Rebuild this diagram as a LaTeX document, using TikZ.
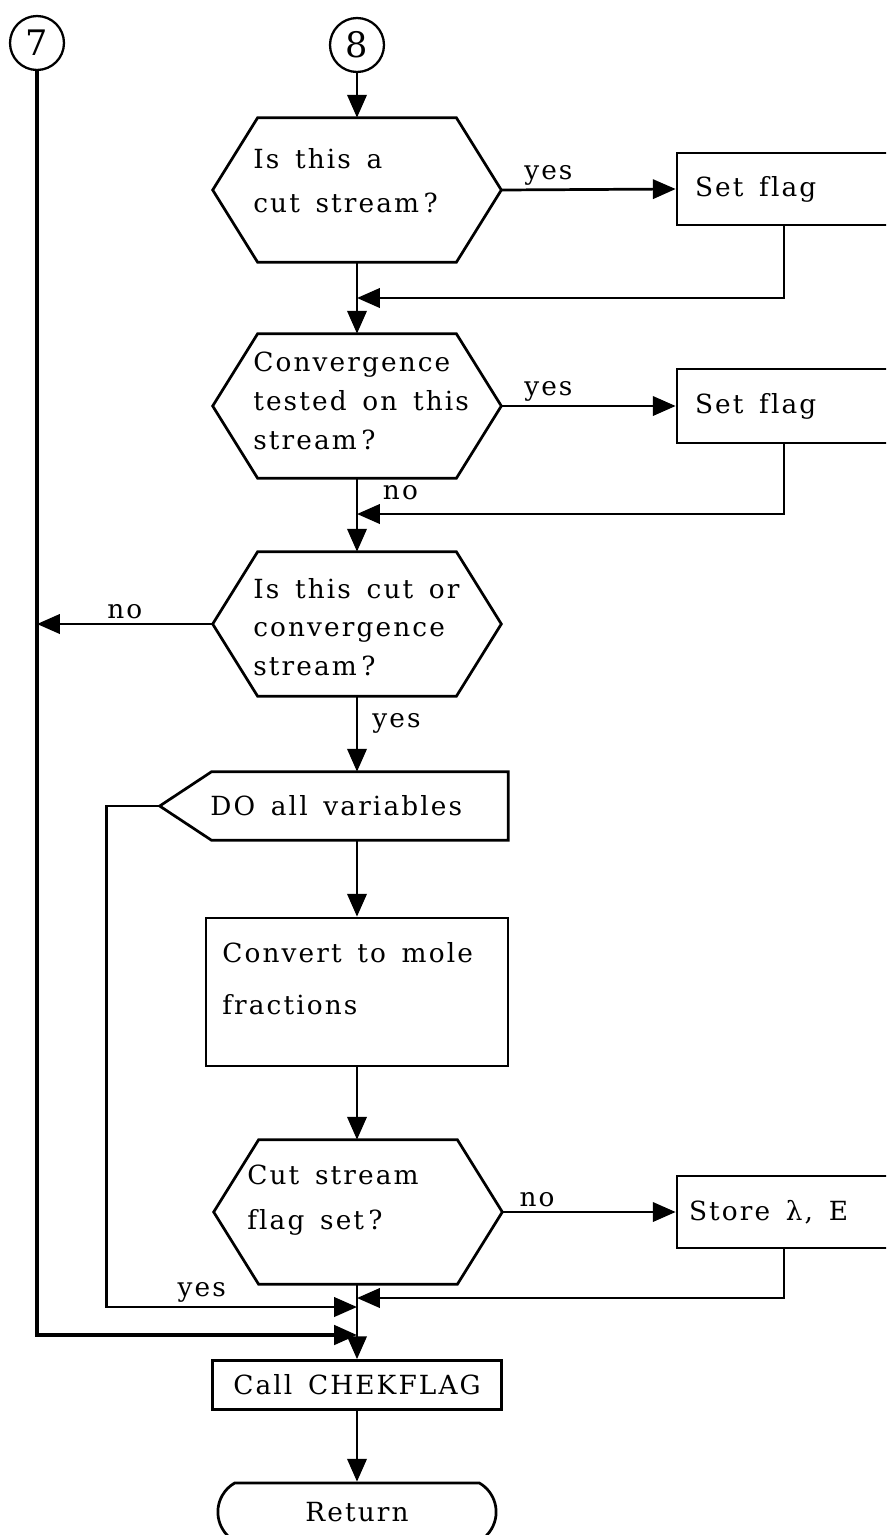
\documentclass[tikz,border=0pt]{standalone}
\usepackage{fontspec}
\setmainfont{DejaVu Serif}[LetterSpace=8, WordSpace=1.5, Ligatures=NoCommon]
\usetikzlibrary{arrows.meta,shapes.misc}

% decision hexagon: an empty frame node whose outline is drawn from its anchors
\newcommand{\decisionshape}[2]{%
  \node[hexframe] (#1) at (#2) {};
  \draw[flow] (#1.west) -- ([xshift=0.9cm]#1.north west) -- ([xshift=-0.9cm]#1.north east)
    -- (#1.east) -- ([xshift=-0.9cm]#1.south east) -- ([xshift=0.9cm]#1.south west) -- cycle;}

\tikzset{
  every node/.style={font=\fontsize{15}{22}\selectfont},
  flow/.style={line width=1.55pt},
  arr/.style={flow, -{Triangle[length=13pt,width=11pt]}},
  conn/.style={circle, draw, line width=1.3pt, minimum size=1.08cm, inner sep=0pt,
    font=\fontsize{20}{22}\selectfont},
  hexframe/.style={rectangle, minimum width=5.76cm, minimum height=2.88cm, inner sep=0pt},
  txt/.style={anchor=west, align=left, inner sep=0pt},
  procbox/.style={rectangle, draw, flow, minimum height=1.44cm, inner ysep=0pt},
  lab/.style={inner sep=2pt},
}

\begin{document}
\begin{tikzpicture}[x=0.02cm, y=-0.02cm]
\useasboundingbox (0,0) rectangle (886,1535);
\clip (0,0) rectangle (886,1535);

% entry connectors
\node[conn] (c7) at (37,43) {7};
\node[conn] (c8) at (357,45) {8};

% decisions
\decisionshape{d1}{357,190}
\node[txt, font=\fontsize{15}{25}\selectfont] (d1t) at (253,181) {Is this a\\cut stream\,?};

\decisionshape{d2}{357,406}
\node[txt] (d2t) at (253,401) {Convergence\\tested on this\\stream\,?};

\decisionshape{d3}{357,624}
\node[txt] (d3t) at (253,627) {Is this cut or\\convergence\\stream\,?};

% flag boxes on the right
\node[procbox, inner xsep=0.36cm] (s1) at (784,189) {\makebox[3.56cm][l]{Set flag}};
\node[procbox, inner xsep=0.36cm, minimum height=1.48cm] (s2) at (784,406) {\makebox[3.56cm][l]{Set flag}};

% DO loop head
\node[rectangle, minimum width=6.96cm, minimum height=1.36cm, inner sep=0pt] (do) at (334,806) {};
\draw[flow] (do.west) -- ([xshift=1.04cm]do.north west) -- (do.north east) -- (do.south east)
  -- ([xshift=1.04cm]do.south west) -- cycle;
\node[txt] (dot) at (210,806) {DO all variables};

% conversion step
\node[rectangle, draw, flow, minimum width=6.04cm, minimum height=2.96cm, inner sep=0pt] (conv) at (357,992) {};
\node[txt, font=\fontsize{15}{29.5}\selectfont] (convt) at (222,979) {Convert to mole\\fractions};

% last decision
\decisionshape{d4}{358,1212}
\node[txt, font=\fontsize{15}{26}\selectfont] (d4t) at (247,1200) {Cut stream\\flag set\,?};

\node[procbox, inner xsep=0.24cm] (s3) at (784,1212) {\makebox[3.8cm][l]{Store λ, E}};

% exit
\node[rectangle, draw, flow, minimum width=5.78cm, minimum height=0.98cm] (call) at (357,1385) {Call CHEKFLAG};
\node[rounded rectangle, rounded rectangle arc length=120, draw, flow, minimum width=5.8cm, minimum height=1.16cm] (ret) at (357,1512) {Return};

% junction points on the main line
\coordinate (m1) at (357,298);
\coordinate (m2) at (357,514);
\coordinate (m3) at (357,1298);
\coordinate (m4) at (357,1307);
\coordinate (m5) at (357,1335);

% connectors
\draw[arr] (c8.south) -- (d1.north);
\draw[arr] (d1.east) -- node[lab, above, pos=.27] {yes} (s1.west);
\draw[arr] (d1.south) -- (d2.north);
\draw[arr] (s1.south) |- (m1);
\draw[arr] (d2.east) -- node[lab, above, pos=.27] {yes} (s2.west);
\draw[arr] (d2.south) -- node[lab, right=12pt, pos=.2] {no} (d3.north);
\draw[arr] (s2.south) |- (m2);
\draw[arr] (d3.west) -- node[lab, above] {no} (d3.west -| c7.south);
\draw[arr] (d3.south) -- node[lab, right=6pt, pos=.36] {yes} (d3.south |- do.north);
\draw[arr] (conv.north |- do.south) -- (conv.north);
\draw[arr] (conv.south) -- (d4.north -| conv.south);
\draw[arr] (d4.east) -- node[lab, above, pos=.2] {no} (s3.west);
\draw[arr] (s3.south) |- (m3);
\draw[arr] (do.west) -- ++(-53,0) |- node[lab, above, pos=.69] {yes} (m4);
\draw[arr, line width=2pt] (c7.south) |- (m5);
\draw[arr] (conv.south |- d4.south) -- (call.north);
\draw[arr] (call.south) -- (ret.north);
\end{tikzpicture}
\end{document}
